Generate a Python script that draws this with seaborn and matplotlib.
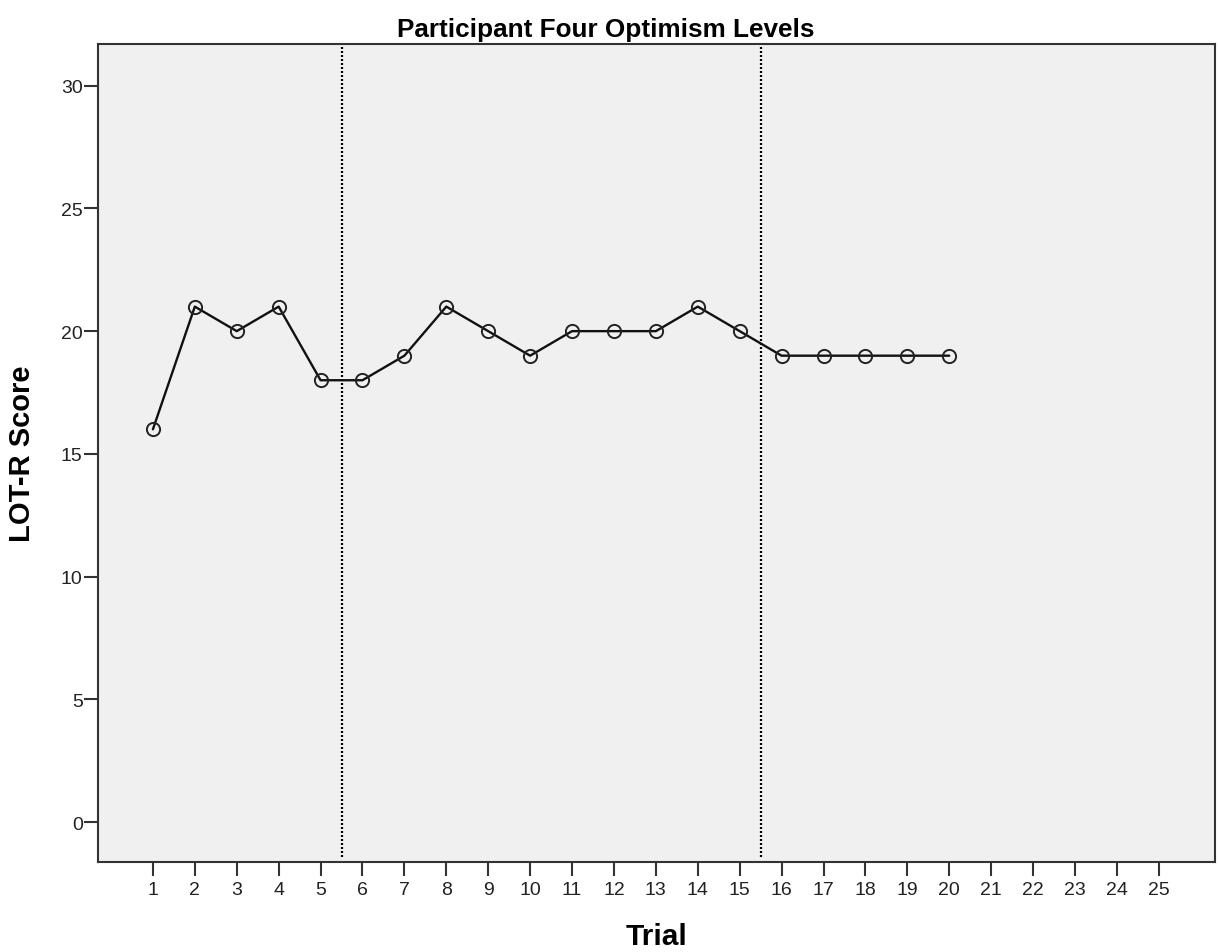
import numpy as np
import pandas as pd
import matplotlib
matplotlib.use('Agg')
import seaborn as sns
import matplotlib.pyplot as plt

sns.set_style("ticks")
plt.rcParams['font.family'] = ['Liberation Sans', 'DejaVu Sans']

# data
trials = list(range(1, 21))
scores = [16, 21, 20, 21, 18, 18, 19, 21, 20, 19, 20, 20, 20, 21, 20, 19, 19, 19, 19, 19]
phase_breaks = [5.5, 15.5]
xticks = list(range(1, 26))
yticks = [0, 5, 10, 15, 20, 25, 30]

df = pd.DataFrame({"Trial": trials, "Score": scores})

fig = plt.figure(figsize=(12.19, 9.53), dpi=100)
ax = fig.add_axes([0.0804, 0.0944, 0.9163, 0.8584])
ax.set_facecolor('#f0f0f0')

sns.lineplot(data=df, x="Trial", y="Score", ax=ax, color='#111111', lw=1.7,
             marker='o', markersize=9.5, markerfacecolor='none',
             markeredgecolor='#222222', markeredgewidth=1.4, zorder=3)

for xb in phase_breaks:
    ax.axvline(xb, ymin=0.006, ymax=1, color='black', ls=(0, (0.9, 0.9)), lw=1.6, zorder=2)

ax.set_xlim(-0.31, 26.34)
ax.set_ylim(-1.63, 31.7)
ax.set_xticks(xticks)
ax.set_yticks(yticks)
ax.tick_params(axis='both', direction='out', length=10, width=1.5, color='#333333',
               labelsize=14, labelcolor='#222222')
ax.tick_params(axis='x', pad=4)
ax.tick_params(axis='y', pad=1)

for sp in ax.spines.values():
    sp.set_linewidth(1.5)
    sp.set_color('#333333')

ax.set_xlabel("Trial", fontsize=21.5, fontweight='bold', labelpad=17, color='black')
ax.set_ylabel("LOT-R Score", fontsize=21, fontweight='bold', labelpad=18, color='black')
ax.set_title("Participant Four Optimism Levels", fontsize=18.8, fontweight='bold',
             pad=6, x=0.455, color='black')

plt.savefig("out.png", dpi=100)
